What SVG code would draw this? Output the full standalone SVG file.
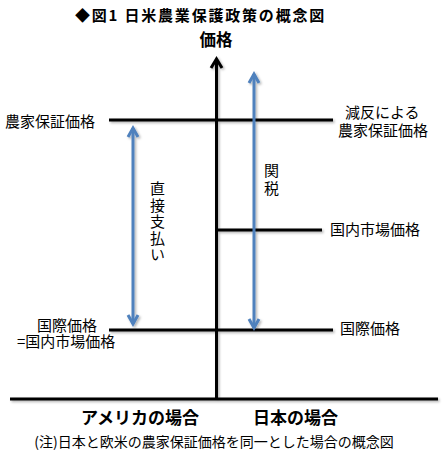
<svg xmlns="http://www.w3.org/2000/svg" width="447" height="457" viewBox="0 0 447 457">
<defs>
<filter id="sh" x="-20%" y="-20%" width="140%" height="140%">
<feDropShadow dx="1.5" dy="1.5" stdDeviation="1" flood-color="#000" flood-opacity="0.3"/>
</filter>
</defs>
<style>
text{font-family:"Noto Sans CJK JP","Noto Sans CJK SC",sans-serif;fill:#000}
.lbl{font-size:15px}
.b{font-weight:bold}
.blk{stroke:#000;stroke-width:3;fill:none}
.blu{stroke:#4F81BD;stroke-width:3;fill:none}
</style>
<rect width="447" height="457" fill="#fff"/>
<text x="75" y="21" font-size="15" letter-spacing="1.8" class="b">◆図1 日米農業保護政策の概念図</text>
<text x="216" y="46" text-anchor="middle" font-size="16.5" class="b">価格</text>
<g id="connectors" filter="url(#sh)">
<line class="blk" x1="216.5" y1="59" x2="216.5" y2="399"/>
<polyline class="blk" points="211,68 216.5,59 222,68"/>
<line class="blk" x1="109" y1="120" x2="333" y2="120"/>
<line class="blk" x1="216" y1="230" x2="322" y2="230"/>
<line class="blk" x1="109" y1="330" x2="333" y2="330"/>
<line class="blk" x1="10" y1="399" x2="438" y2="399"/>
<line class="blu" x1="133" y1="128" x2="133" y2="324"/>
<polyline class="blu" points="128,137 133,128 138,137"/>
<polyline class="blu" points="128,315 133,324 138,315"/>
<line class="blu" x1="254" y1="74" x2="254" y2="328"/>
<polyline class="blu" points="249,83 254,74 259,83"/>
<polyline class="blu" points="249,319 254,328 259,319"/>
</g>
<g id="n_farm_left"><text class="lbl" x="5" y="127">農家保証価格</text></g>
<g id="n_farm_right"><text class="lbl"><tspan x="345" y="118">減反による</tspan><tspan x="338" y="135.5">農家保証価格</tspan></text></g>
<g id="n_domestic"><text class="lbl" x="330" y="235">国内市場価格</text></g>
<g id="n_intl_left"><text class="lbl"><tspan x="37" y="331">国際価格</tspan><tspan x="17" y="347">=国内市場価格</tspan></text></g>
<g id="n_intl_right"><text class="lbl" x="340" y="334">国際価格</text></g>
<g id="n_tariff"><text class="lbl" x="271.5" y="163" writing-mode="vertical-rl" letter-spacing="2.5">関税</text></g>
<g id="n_direct"><text class="lbl" x="157.5" y="181" writing-mode="vertical-rl" letter-spacing="1.5">直接支払い</text></g>
<g id="n_usa"><text x="140" y="424" text-anchor="middle" font-size="17" class="b">アメリカの場合</text></g>
<g id="n_japan"><text x="295.5" y="424" text-anchor="middle" font-size="17" class="b">日本の場合</text></g>
<text x="214" y="447" text-anchor="middle" font-size="14">(注)日本と欧米の農家保証価格を同一とした場合の概念図</text>
</svg>
